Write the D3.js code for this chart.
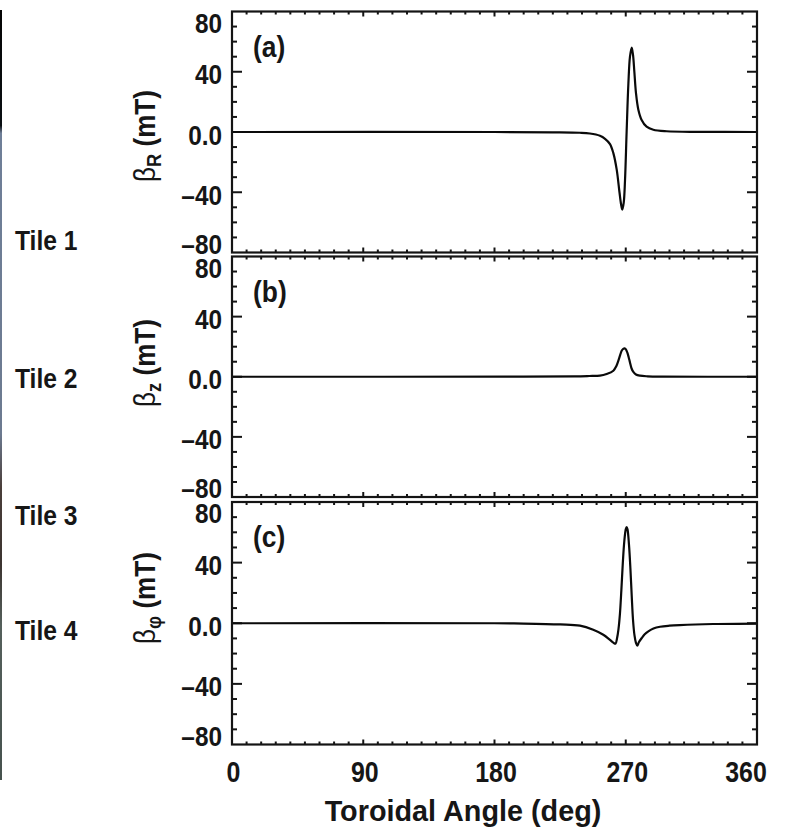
<!DOCTYPE html>
<html>
<head>
<meta charset="utf-8">
<script src="https://cdn.jsdelivr.net/npm/d3@7"></script>
<style>
  html, body { margin: 0; padding: 0; background: #fff; }
  svg { display: block; }
  text { font-family: "Liberation Sans", Arial, Helvetica, sans-serif; font-weight: bold; fill: #161616; }
</style>
</head>
<body>
<svg id="chart" width="788" height="839"></svg>
<script>
// ---------------- DATA ----------------
const xTickValues = [0, 90, 180, 270, 360];
const xTickLabels = ["0", "90", "180", "270", "360"];
const yTickValues = [80, 40, 0, -40, -80];
const yTickLabels = ["80", "40", "0.0", "\u201340", "\u201380"];
const tileLabels = ["Tile 1", "Tile 2", "Tile 3", "Tile 4"];
const panelLetters = ["(a)", "(b)", "(c)"];
const ySubscripts = ["R", "z", "\u03C6"];
const xTitle = "Toroidal Angle (deg)";

// Panel (a): beta_R
const anglesA = [0, 180, 220, 238.6, 245.4, 252.3, 255.8, 259.2, 261.5, 263.8, 265.7, 266.8, 267.6, 268.6, 269.5, 270.6, 271.8, 272.9, 274.1, 275.0, 275.9, 277.0, 278.6, 280.9, 284.3, 288.9, 298, 320, 360];
const valuesA = [0, 0, -0.2, -0.5, -1.0, -2.5, -4.5, -8, -14, -25, -40, -48, -51.5, -47, -32, 0, 32, 50, 56, 51, 40, 26, 15, 8, 3.5, 1.5, 0.5, 0.1, 0];

// Panel (b): beta_z
const anglesB = [0, 200, 235, 245, 252.3, 256.9, 261.5, 263.5, 264.9, 266.2, 267.2, 268.3, 269.2, 270.1, 271.1, 272.0, 272.9, 274.0, 275.2, 277.0, 279.8, 285, 295, 360];
const valuesB = [0, 0.1, 0.3, 0.5, 0.7, 1.8, 4, 7, 10.6, 14.5, 17.3, 18.6, 18.9, 18.2, 16, 13, 9.5, 5.5, 3.3, 1.5, 0.7, 0.3, 0.1, 0];

// Panel (c): beta_phi
const anglesC = [0, 180, 200, 225, 238.6, 247.7, 254.6, 259.2, 261.5, 263.0, 264.0, 265.0, 266.0, 267.0, 268.0, 269.0, 270.0, 270.6, 271.2, 272.2, 273.2, 274.1, 275.0, 276.0, 277.0, 277.9, 279.0, 281.0, 283.0, 285.5, 289, 293.5, 300, 307, 330, 360];
const valuesC = [0, 0, -0.2, -0.8, -1.6, -4.3, -7.6, -11, -12.8, -13.5, -10, -4, 6, 22, 40, 54, 62, 63.5, 62, 52, 36, 18, 2, -8, -13, -14.8, -12.5, -9.7, -7.3, -5.4, -3.5, -2.3, -1.6, -1.2, -0.5, -0.2];

const seriesAngles = [anglesA, anglesB, anglesC];
const seriesValues = [valuesA, valuesB, valuesC];

// ---------------- LAYOUT ----------------
const svg = d3.select("#chart");
const X0 = 232, X1 = 757;
const panels = [
  { top: 11.5, bottom: 252.5, titleY: 136 },
  { top: 256.5, bottom: 497, titleY: 363 },
  { top: 502, bottom: 744.5, titleY: 598 }
];
const x = d3.scaleLinear().domain([0, 360]).range([X0, X1]);
const xMinor = d3.range(0, 361, 10);
const yMinor = d3.range(-80, 81, 10);
const ink = "#141414";

// left decorative strip (edge of an adjacent figure)
const defs = svg.append("defs");
const grad = defs.append("linearGradient").attr("id", "strip").attr("x1", 0).attr("x2", 0).attr("y1", 0).attr("y2", 1);
[[0, "#050505"], [0.15, "#0a0f12"], [0.16, "#6f7f98"], [0.55, "#6c7a90"], [0.62, "#4a3e3a"], [0.72, "#3c3430"], [0.8, "#55605c"], [1, "#46524e"]]
  .forEach(s => grad.append("stop").attr("offset", s[0]).attr("stop-color", s[1]));
svg.append("rect").attr("x", 0).attr("y", 10).attr("width", 2).attr("height", 770).attr("fill", "url(#strip)");

function label(g, px, py, str, size, anchor, sx) {
  return g.append("text")
    .attr("transform", `translate(${px},${py}) scale(${sx},1)`)
    .attr("text-anchor", anchor)
    .attr("font-size", size)
    .text(str);
}

panels.forEach((p, i) => {
  const g = svg.append("g");
  const y = d3.scaleLinear().domain([-80, 80]).range([p.bottom, p.top]);

  // y ticks (left & right, inward)
  yMinor.forEach(v => {
    if (v === 80 || v === -80) return;
    const major = v % 40 === 0;
    const len = major ? 10 : 5;
    g.append("line").attr("x1", X0).attr("x2", X0 + len).attr("y1", y(v)).attr("y2", y(v)).attr("stroke", ink).attr("stroke-width", 2);
    g.append("line").attr("x1", X1).attr("x2", X1 - len).attr("y1", y(v)).attr("y2", y(v)).attr("stroke", ink).attr("stroke-width", 2);
  });
  // x ticks (top & bottom, inward)
  xMinor.forEach(v => {
    if (v === 0 || v === 360) return;
    const major = v % 90 === 0;
    const len = major ? 5 : 3;
    g.append("line").attr("x1", x(v)).attr("x2", x(v)).attr("y1", p.top).attr("y2", p.top + len).attr("stroke", ink).attr("stroke-width", 2);
    g.append("line").attr("x1", x(v)).attr("x2", x(v)).attr("y1", p.bottom).attr("y2", p.bottom - len).attr("stroke", ink).attr("stroke-width", 2);
  });

  // data curve
  const pts = seriesAngles[i].map((a, k) => [a, seriesValues[i][k]]);
  const line = d3.line().x(d => x(d[0])).y(d => y(d[1])).curve(d3.curveCatmullRom.alpha(0.5));
  g.append("path").attr("d", line(pts)).attr("fill", "none").attr("stroke", "#0a0a0a").attr("stroke-width", 2.2).attr("stroke-linejoin", "round");

  // frame
  g.append("rect").attr("x", X0).attr("y", p.top).attr("width", X1 - X0).attr("height", p.bottom - p.top)
    .attr("fill", "none").attr("stroke", ink).attr("stroke-width", 2.2);

  // y tick labels
  yTickValues.forEach((v, k) => {
    let off = 2.5;
    if (v === 80) off = 11;
    if (v === -80) off = -9;
    label(g, 222, y(v) + off + 10, yTickLabels[k], 28, "end", 0.87);
  });

  // panel letter
  label(g, 253, p.top + 45, panelLetters[i], 30, "start", 0.88);

  // y title
  const t = g.append("text")
    .attr("transform", `translate(155,${p.titleY}) rotate(-90) scale(0.87,1)`)
    .attr("text-anchor", "middle")
    .attr("font-size", 30);
  t.append("tspan").attr("font-weight", "normal").text("\u03B2");
  t.append("tspan").attr("font-size", 21).attr("dy", 6).text(ySubscripts[i]);
  t.append("tspan").attr("dy", -6).text(" (mT)");
});

// x tick labels (bottom panel)
xTickValues.forEach((v, k) => {
  const off = v === 360 ? -11 : 1.5;
  label(svg, x(v) + off, 782, xTickLabels[k], 29, "middle", 0.86);
});

// x title
label(svg, 463, 821, xTitle, 30, "middle", 0.96);

// tile labels
const tileY = [250, 388, 525, 640];
tileLabels.forEach((s, k) => label(svg, 15, tileY[k], s, 28, "start", 0.88));
</script>
</body>
</html>
